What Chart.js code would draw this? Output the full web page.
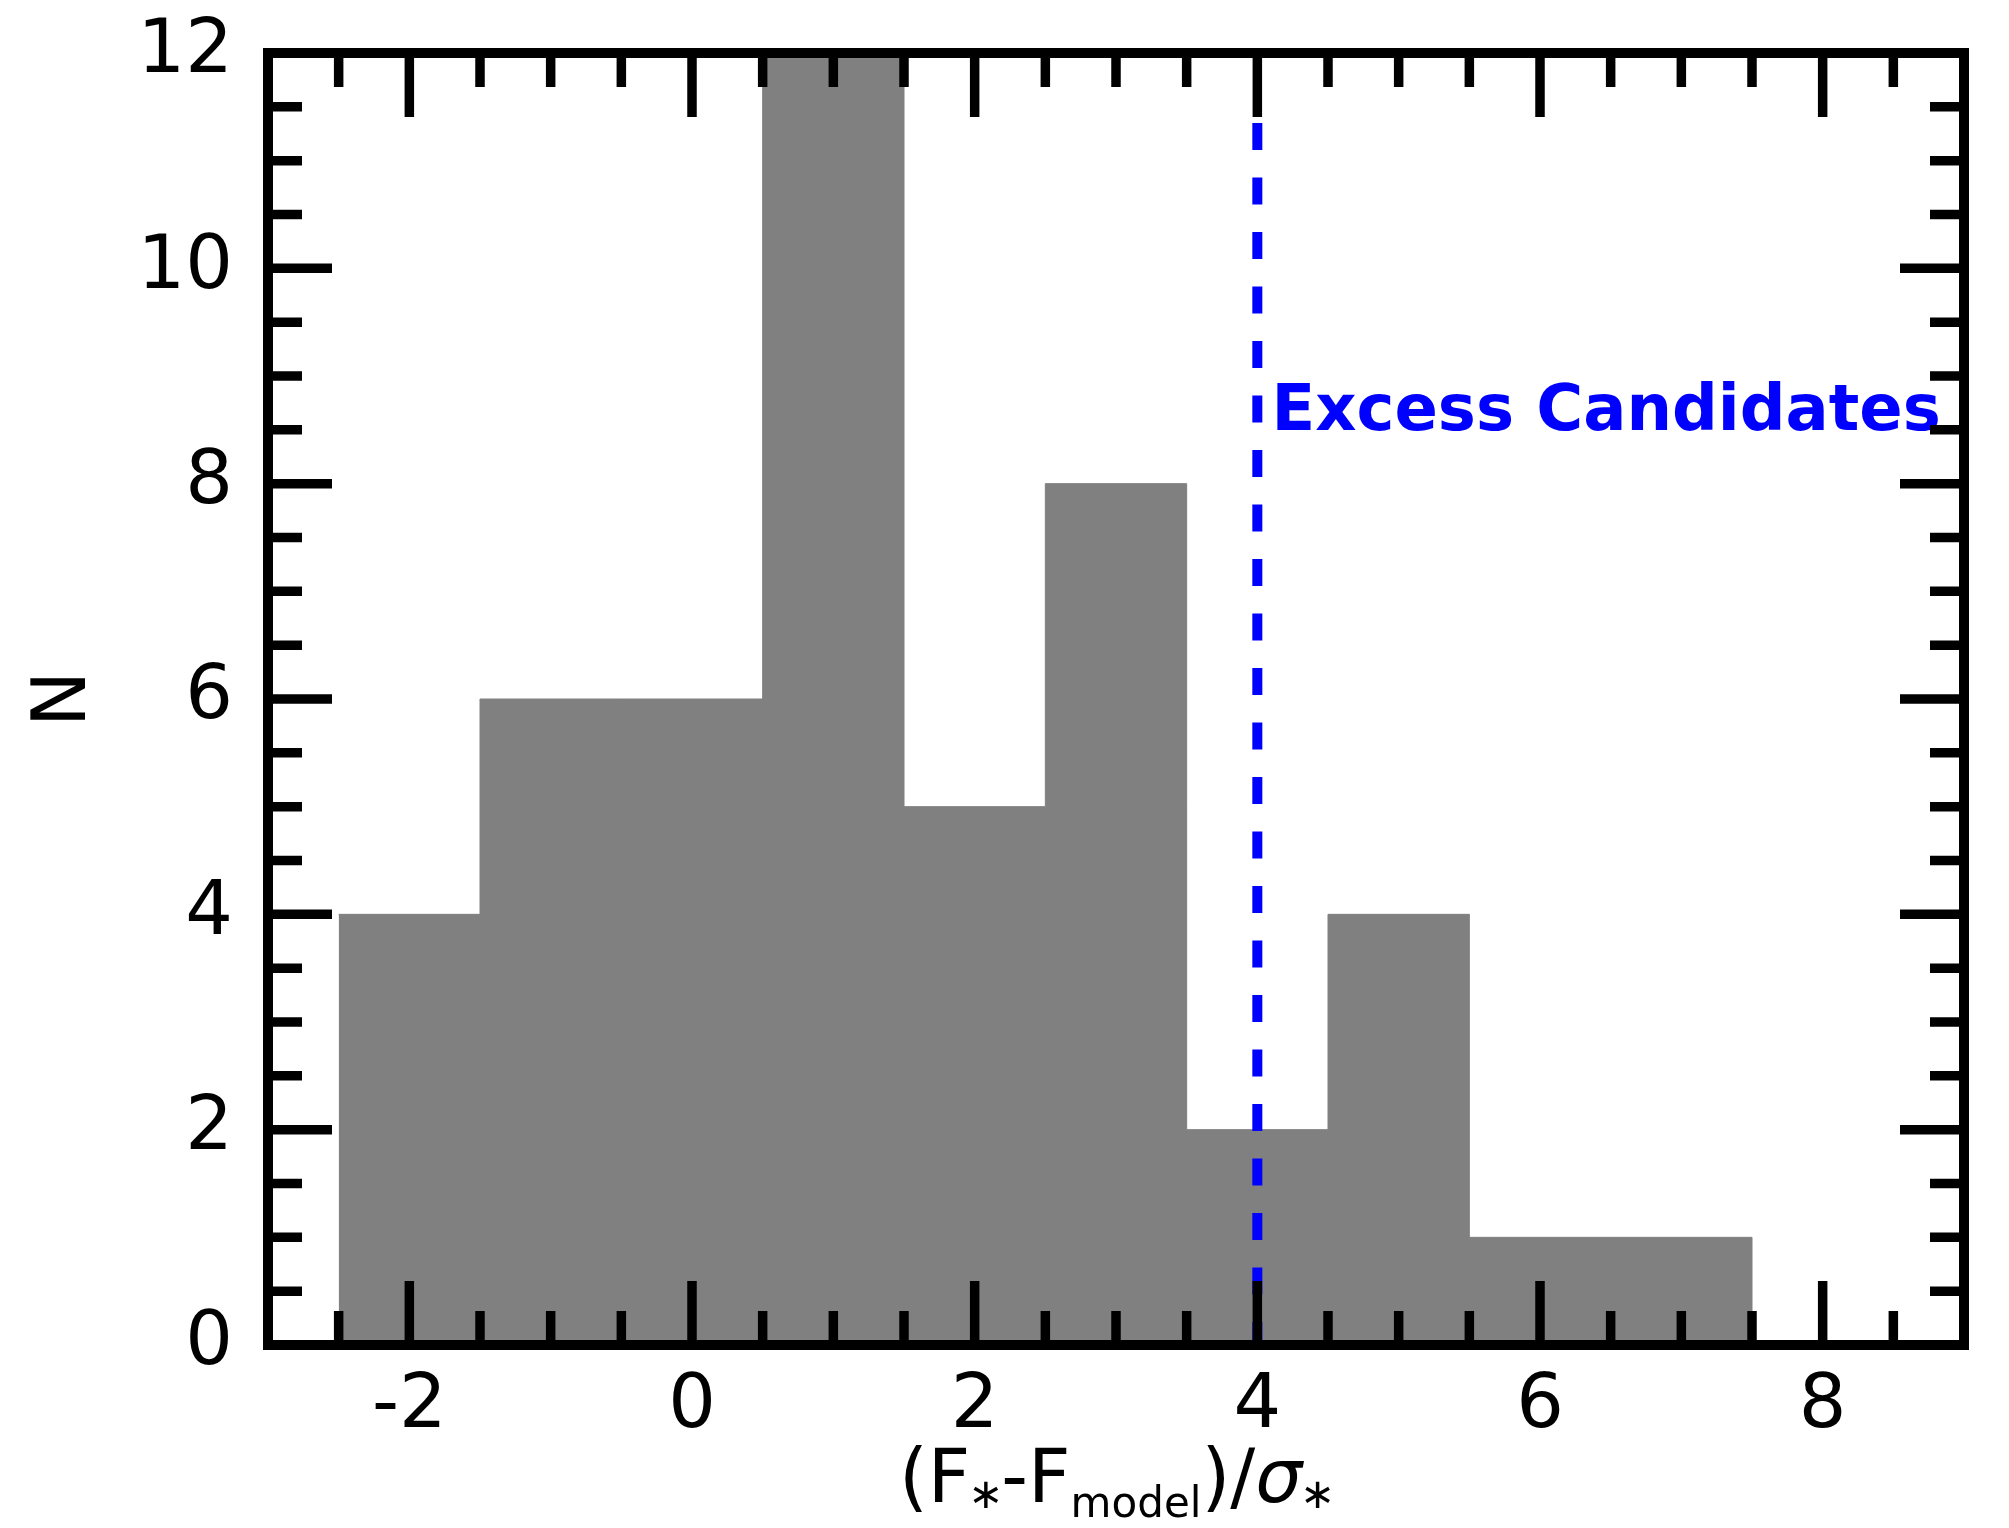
<!DOCTYPE html>
<html>
<head>
<meta charset="utf-8">
<script src="https://cdn.jsdelivr.net/npm/chart.js@4.4.0/dist/chart.umd.min.js"></script>
<style>
  html, body { margin: 0; padding: 0; background: #fff; }
  #wrap { width: 2009px; height: 1528px; }
</style>
</head>
<body>
<div id="wrap"><canvas id="grafico_hist" width="2009" height="1528"></canvas></div>
<script>
// --- Dados do histograma ---
const binEdges = [-2.5, -1.5, -0.5, 0.5, 1.5, 2.5, 3.5, 4.5, 5.5, 6.5, 7.5];
const counts = [4, 6, 6, 12, 5, 8, 2, 4, 1, 1];
const xTicks = [-2, 0, 2, 4, 6, 8];
const yTicks = [0, 2, 4, 6, 8, 10, 12];
const xRange = [-3, 9];
const yRange = [0, 12];
// linha de corte (x = 4) e rótulo
const cutLineX = [4, 4];
const cutLineY = [11.35, 0];
const cutLabel = ['Excess Candidates'];
const cutLabelPos = [4.1, 8.5];

const FONTE = '"DejaVu Sans", sans-serif';

// pontos do histograma em degraus (último ponto fecha em zero)
const histPoints = binEdges.map((e, i) => ({ x: e, y: i < counts.length ? counts[i] : 0 }));
const cutPoints = cutLineX.map((v, i) => ({ x: v, y: cutLineY[i] }));

// --- Plugin: moldura, ticks internos, rótulo e título do eixo x ---
const molduraPlugin = {
  id: 'moldura',
  afterDatasetsDraw(chart) {
    const { ctx, chartArea: a, scales: { x, y } } = chart;
    ctx.save();

    // rótulo "Excess Candidates"
    ctx.font = 'bold 64px ' + FONTE;
    ctx.fillStyle = '#0000ff';
    ctx.textAlign = 'left';
    ctx.textBaseline = 'alphabetic';
    ctx.fillText(cutLabel[0], x.getPixelForValue(cutLabelPos[0]), y.getPixelForValue(cutLabelPos[1]));

    // ticks para dentro, nos quatro lados
    ctx.strokeStyle = '#000';
    ctx.lineWidth = 9.5;
    ctx.lineCap = 'butt';
    const traco = (x1, y1, x2, y2) => { ctx.beginPath(); ctx.moveTo(x1, y1); ctx.lineTo(x2, y2); ctx.stroke(); };
    for (let v = xRange[0]; v <= xRange[1] + 1e-9; v += 0.5) {
      const px = x.getPixelForValue(v);
      const len = v % 2 === 0 ? 64 : 34;
      traco(px, a.bottom, px, a.bottom - len);
      traco(px, a.top, px, a.top + len);
    }
    for (let v = yRange[0]; v <= yRange[1] + 1e-9; v += 0.5) {
      const py = y.getPixelForValue(v);
      const len = v % 2 === 0 ? 64 : 34;
      traco(a.left, py, a.left + len, py);
      traco(a.right, py, a.right - len, py);
    }

    // moldura
    ctx.lineWidth = 10;
    ctx.strokeRect(a.left, a.top, a.right - a.left, a.bottom - a.top);
    ctx.restore();
  },
  afterDraw(chart) {
    // título do eixo x com subscritos: (F*-Fmodel)/σ*
    const { ctx, chartArea: a } = chart;
    const fontes = {
      main: '74px ' + FONTE,
      sub: '42px ' + FONTE,
      ital: 'italic 74px ' + FONTE
    };
    // dy: deslocamento da linha de base; ink: avança só pela largura do desenho
    const partes = [
      { t: '(', f: 'main', dy: 0 }, { t: 'F', f: 'main', dy: 0 },
      { t: '\u2217', f: 'sub', dy: 6, ink: true },
      { t: '-F', f: 'main', dy: 0 }, { t: 'model', f: 'sub', dy: 15 },
      { t: ')/', f: 'main', dy: 0 }, { t: '\u03c3', f: 'ital', dy: 0 },
      { t: '\u2217', f: 'sub', dy: 6, ink: true }
    ];
    ctx.save();
    ctx.fillStyle = '#000';
    ctx.textBaseline = 'alphabetic';
    ctx.textAlign = 'left';
    let total = 0;
    partes.forEach(p => {
      ctx.font = fontes[p.f];
      const m = ctx.measureText(p.t);
      if (p.ink) {
        p.w = m.actualBoundingBoxLeft + m.actualBoundingBoxRight + 6;
        p.dx = 3 + m.actualBoundingBoxLeft;
      } else {
        p.w = m.width;
        p.dx = 0;
      }
      total += p.w;
    });
    let cx = (a.left + a.right) / 2 - total / 2;
    const base = a.bottom + 157;
    partes.forEach(p => {
      ctx.font = fontes[p.f];
      ctx.fillText(p.t, cx + p.dx, base + p.dy);
      cx += p.w;
    });
    ctx.restore();
  }
};

new Chart(document.getElementById('grafico_hist'), {
  type: 'line',
  data: {
    datasets: [
      {
        data: cutPoints,
        borderColor: '#0000ff',
        borderWidth: 10,
        borderDash: [27, 27.5],
        pointRadius: 0,
        fill: false,
        order: 1
      },
      {
        data: histPoints,
        stepped: true,
        fill: 'origin',
        backgroundColor: '#808080',
        borderColor: '#808080',
        borderWidth: 1,
        pointRadius: 0,
        order: 2
      }
    ]
  },
  options: {
    responsive: false,
    animation: false,
    layout: { padding: { top: 53, right: 45, left: 0, bottom: 0 } },
    plugins: { legend: { display: false }, tooltip: { enabled: false } },
    scales: {
      x: {
        type: 'linear',
        min: xRange[0],
        max: xRange[1],
        grid: { display: false },
        border: { display: false },
        afterBuildTicks: s => { s.ticks = xTicks.map(v => ({ value: v })); },
        afterFit: s => { s.height = 183; s.paddingLeft = 0; s.paddingRight = 0; },
        ticks: {
          font: { family: FONTE, size: 75 },
          color: '#000',
          padding: 10,
          maxRotation: 0,
          autoSkip: false,
          callback: v => String(v)
        }
      },
      y: {
        type: 'linear',
        min: yRange[0],
        max: yRange[1],
        grid: { display: false },
        border: { display: false },
        afterBuildTicks: s => { s.ticks = yTicks.map(v => ({ value: v })); },
        afterFit: s => { s.width = 268; s.paddingTop = 0; s.paddingBottom = 0; },
        ticks: {
          font: { family: FONTE, size: 75 },
          color: '#000',
          padding: 27,
          autoSkip: false,
          callback: v => String(v)
        },
        title: {
          display: true,
          text: 'N',
          color: '#000',
          font: { family: FONTE, size: 75 },
          padding: { top: 21, bottom: 0 }
        }
      }
    }
  },
  plugins: [molduraPlugin]
});
</script>
</body>
</html>
